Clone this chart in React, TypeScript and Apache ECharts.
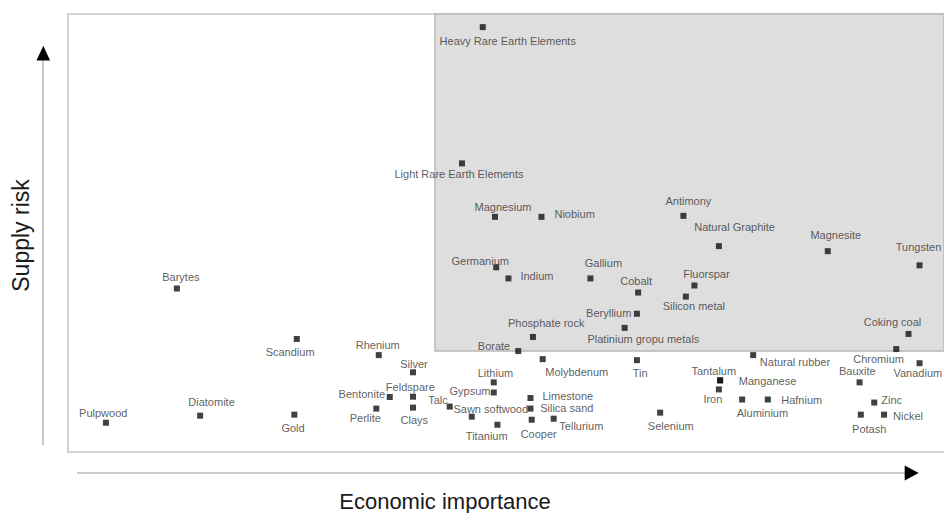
import React, { useEffect, useRef } from "react";
import * as echarts from "echarts";

const materials = [
  "Heavy Rare Earth Elements", "Light Rare Earth Elements", "Magnesium", "Niobium", "Antimony",
  "Natural Graphite", "Magnesite", "Tungsten", "Germanium", "Indium",
  "Gallium", "Cobalt", "Fluorspar", "Silicon metal", "Beryllium",
  "Phosphate rock", "Platinium gropu metals", "Borate", "Rhenium", "Silver",
  "Bentonite", "Feldspare", "Perlite", "Clays", "Talc",
  "Gypsum", "Lithium", "Sawn softwood", "Titanium", "Limestone",
  "Silica sand", "Cooper", "Tellurium", "Molybdenum", "Tin",
  "Selenium", "Natural rubber", "Tantalum", "Manganese", "Iron",
  "Aluminium", "Hafnium", "Bauxite", "Chromium", "Coking coal",
  "Vanadium", "Zinc", "Potash", "Nickel", "Barytes",
  "Scandium", "Pulpwood", "Diatomite", "Gold",
];

const economicImportance = [
  5.39, 5.22, 5.49, 5.87, 7.03,
  7.32, 8.21, 8.96, 5.5, 5.6,
  6.27, 6.66, 7.12, 7.05, 6.65,
  5.8, 6.55, 5.68, 4.54, 4.82,
  4.63, 4.82, 4.52, 4.82, 5.12,
  5.48, 5.48, 5.3, 5.51, 5.78,
  5.78, 5.79, 5.97, 5.88, 6.65,
  6.84, 7.6, 7.33, 7.33, 7.32,
  7.51, 7.72, 8.47, 8.77, 8.87,
  8.96, 8.59, 8.48, 8.67, 2.89,
  3.87, 2.31, 3.08, 3.85,
];

const supplyRisk = [
  4.21, 2.86, 2.33, 2.33, 2.34,
  2.04, 1.99, 1.85, 1.83, 1.72,
  1.72, 1.58, 1.65, 1.54, 1.37,
  1.14, 1.23, 1.0, 0.96, 0.79,
  0.545, 0.548, 0.43, 0.44, 0.45,
  0.59, 0.69, 0.35, 0.27, 0.535,
  0.43, 0.32, 0.33, 0.92, 0.91,
  0.39, 0.96, 0.71, 0.71, 0.62,
  0.52, 0.52, 0.69, 1.02, 1.17,
  0.88, 0.49, 0.37, 0.37, 1.62,
  1.12, 0.29, 0.36, 0.37,
];

const eiThreshold = 5;
const srThreshold = 1;
const eiMin = 2;
const eiMax = 9.16;
const srMin = 0;
const srMax = 4.34;

// label layout: [align, dx, dy] relative to marker centre
const labelLayout: Record<string, [string, number, number]> = {
  "Heavy Rare Earth Elements": ["center", 25, 14],
  "Light Rare Earth Elements": ["center", -3, 10.7],
  "Magnesium": ["center", 8, -10],
  "Niobium": ["left", 13, -3],
  "Antimony": ["center", 5, -15],
  "Natural Graphite": ["center", 15.7, -19.3],
  "Magnesite": ["center", 8, -16.4],
  "Tungsten": ["center", -1, -18.7],
  "Germanium": ["center", -16, -6],
  "Indium": ["left", 12, -2.7],
  "Gallium": ["center", 13, -15.4],
  "Cobalt": ["center", -2, -11.6],
  "Fluorspar": ["center", 12, -11.4],
  "Silicon metal": ["center", 8, 9.3],
  "Beryllium": ["right", -5.6, -0.6],
  "Phosphate rock": ["center", 13.3, -14.4],
  "Platinium gropu metals": ["center", 18.7, 11],
  "Borate": ["right", -8, -5],
  "Rhenium": ["center", -1, -10.3],
  "Silver": ["center", 1, -8.4],
  "Bentonite": ["right", -4.7, -2.7],
  "Feldspare": ["center", -2.7, -9.4],
  "Perlite": ["center", -11, 9.7],
  "Clays": ["center", 1.3, 12],
  "Talc": ["right", -2, -6.3],
  "Gypsum": ["right", -3.3, -1.2],
  "Lithium": ["center", 1.7, -9.7],
  "Sawn softwood": ["center", 19, -8],
  "Titanium": ["center", -10.7, 11.3],
  "Limestone": ["left", 12, -2],
  "Silica sand": ["left", 9.7, -1],
  "Cooper": ["center", 7, 14.4],
  "Tellurium": ["left", 5.6, 7],
  "Molybdenum": ["center", 34, 12.7],
  "Tin": ["center", 3.3, 13],
  "Selenium": ["center", 10.6, 13.7],
  "Natural rubber": ["left", 6.7, 6.7],
  "Tantalum": ["center", -6.3, -9.3],
  "Manganese": ["left", 18.7, 1],
  "Iron": ["center", -6, 9.6],
  "Aluminium": ["center", 20.3, 13],
  "Hafnium": ["left", 13.4, 0],
  "Bauxite": ["center", -2.3, -11.7],
  "Chromium": ["center", -17.7, 10],
  "Coking coal": ["center", -16, -12],
  "Vanadium": ["center", -1.7, 10],
  "Zinc": ["left", 7, -3],
  "Potash": ["center", 8.4, 14],
  "Nickel": ["left", 9, 1.7],
  "Barytes": ["center", 4, -11.3],
  "Scandium": ["center", -6.7, 13],
  "Pulpwood": ["center", -2.7, -10],
  "Diatomite": ["center", 11.4, -13.7],
  "Gold": ["center", -1.3, 13],
};

const FONT = "'Liberation Sans', Arial, Helvetica, sans-serif";
const BORDER = { show: true, lineStyle: { color: "#c6c6c6", width: 1.5 } };
const HIDDEN = {
  axisTick: { show: false },
  axisLabel: { show: false },
  splitLine: { show: false },
};

export default function App() {
  const ref = useRef<HTMLDivElement>(null);

  useEffect(() => {
    document.body.style.margin = "0";
    if (!ref.current) return;
    const chart = echarts.init(ref.current, undefined, { renderer: "svg" });

    const data = materials.map((name, i) => {
      const lay = labelLayout[name] || ["center", 0, -12];
      return {
        name,
        value: [economicImportance[i], supplyRisk[i]],
        label: {
          show: true,
          position: "inside",
          align: lay[0],
          verticalAlign: "middle",
          offset: [lay[1], lay[2]],
          formatter: name,
        },
      };
    });

    chart.setOption({
      animation: false,
      backgroundColor: "#ffffff",
      grid: {
        left: 68,
        top: 14,
        right: 0,
        bottom: 61,
        show: false,
      },
      xAxis: [
        { type: "value", position: "bottom", min: eiMin, max: eiMax, axisLine: BORDER, ...HIDDEN },
        { type: "value", position: "top", min: eiMin, max: eiMax, axisLine: BORDER, ...HIDDEN },
      ],
      yAxis: {
        type: "value",
        position: "left",
        min: srMin,
        max: srMax,
        axisLine: BORDER,
        ...HIDDEN,
      },
      series: [
        {
          type: "scatter",
          symbol: "rect",
          symbolSize: 6,
          clip: true,
          itemStyle: { color: "#111111" },
          label: {
            color: "#333333",
            fontSize: 11,
            fontFamily: FONT,
            textBorderWidth: 0,
          },
          data,
          markArea: {
            silent: true,
            itemStyle: {
              color: "#dedede",
              borderColor: "#b8b8b8",
              borderWidth: 1.5,
            },
            data: [
              [
                { xAxis: eiThreshold, yAxis: srThreshold },
                { xAxis: eiMax + 0.2, yAxis: srMax },
              ],
            ],
          },
        },
      ],
      graphic: [
        {
          type: "line",
          shape: { x1: 43, y1: 58, x2: 43, y2: 445 },
          style: { stroke: "#cacaca", lineWidth: 2 },
        },
        {
          type: "polygon",
          shape: { points: [[43.3, 45.7], [36.5, 60.5], [50.1, 60.5]] },
          style: { fill: "#000000" },
        },
        {
          type: "line",
          shape: { x1: 77, y1: 473, x2: 906, y2: 473 },
          style: { stroke: "#cacaca", lineWidth: 2 },
        },
        {
          type: "polygon",
          shape: { points: [[918.7, 473], [904.7, 465.5], [904.7, 480.5]] },
          style: { fill: "#000000" },
        },
        {
          type: "text",
          x: 21,
          y: 235.5,
          rotation: Math.PI / 2,
          style: {
            text: "Supply risk",
            fontSize: 23,
            fontFamily: FONT,
            fill: "#1a1a1a",
            align: "center",
            verticalAlign: "middle",
          },
        },
        {
          type: "text",
          x: 445,
          y: 501.5,
          style: {
            text: "Economic importance",
            fontSize: 22,
            fontFamily: FONT,
            fill: "#1a1a1a",
            align: "center",
            verticalAlign: "middle",
          },
        },
      ],
    });

    return () => chart.dispose();
  }, []);

  return <div ref={ref} style={{ width: 944, height: 513 }} />;
}
